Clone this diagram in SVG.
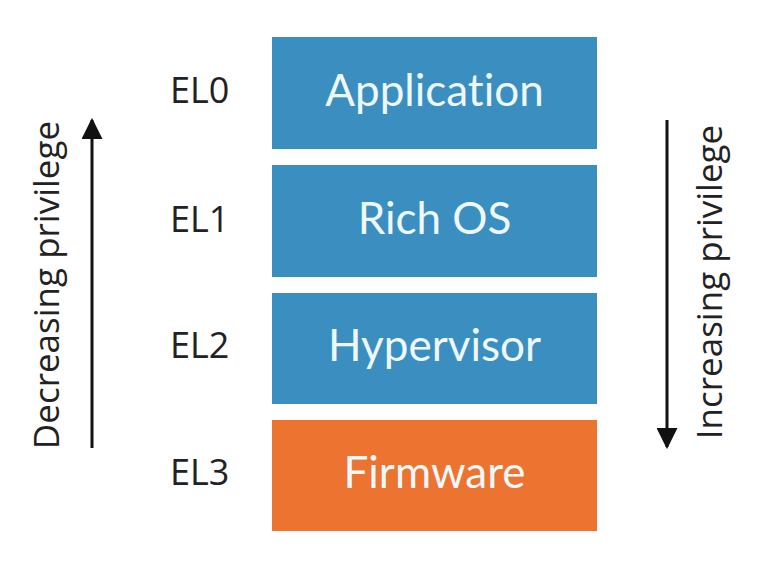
<svg xmlns="http://www.w3.org/2000/svg" width="776" height="582" viewBox="0 0 776 582">
<style>
.box{fill:#3b8fc0}
.fw{fill:#ec7430}
.bt{font-family:Lato,"Open Sans",sans-serif;font-size:44px;fill:#eef8fb;text-anchor:middle;font-variant-ligatures:none}
.el{font-family:"Open Sans","Noto Sans",sans-serif;font-size:36px;fill:#222}
.side{font-family:"Open Sans","Noto Sans",sans-serif;font-size:35px;fill:#222;text-anchor:middle}
.arr{stroke:#111;stroke-width:3;fill:none}
</style>
<defs>
<marker id="ah" viewBox="0 0 10 10" refX="9" refY="5" markerWidth="7" markerHeight="7" markerUnits="strokeWidth" orient="auto">
<path d="M0,0 L10,5 L0,10 Z" fill="#111"/>
</marker>
</defs>
<rect width="776" height="582" fill="#ffffff"/>
<g id="app"><rect class="box" x="272" y="37" width="325" height="112"/><text class="bt" x="434.5" y="106">Application</text></g>
<g id="richos"><rect class="box" x="272" y="165" width="325" height="112"/><text class="bt" x="434.5" y="234">Rich OS</text></g>
<g id="hyp"><rect class="box" x="272" y="293" width="325" height="111"/><text class="bt" x="434.5" y="361">Hypervisor</text></g>
<g id="fw"><rect class="fw" x="272" y="420" width="325" height="111"/><text class="bt" x="434.5" y="488">Firmware</text></g>
<g id="labels">
<text class="el" x="170" y="103">EL0</text>
<text class="el" x="170" y="232">EL1</text>
<text class="el" x="170" y="358">EL2</text>
<text class="el" x="170" y="485">EL3</text>
<text class="side" transform="translate(59,285) rotate(-90)">Decreasing privilege</text>
<text class="side" transform="translate(722,282) rotate(-90)">Increasing privilege</text>
</g>
<g id="connectors">
<line class="arr" x1="92" y1="448" x2="92" y2="120" marker-end="url(#ah)"/>
<line class="arr" x1="667" y1="120" x2="667" y2="447" marker-end="url(#ah)"/>
</g>
</svg>
